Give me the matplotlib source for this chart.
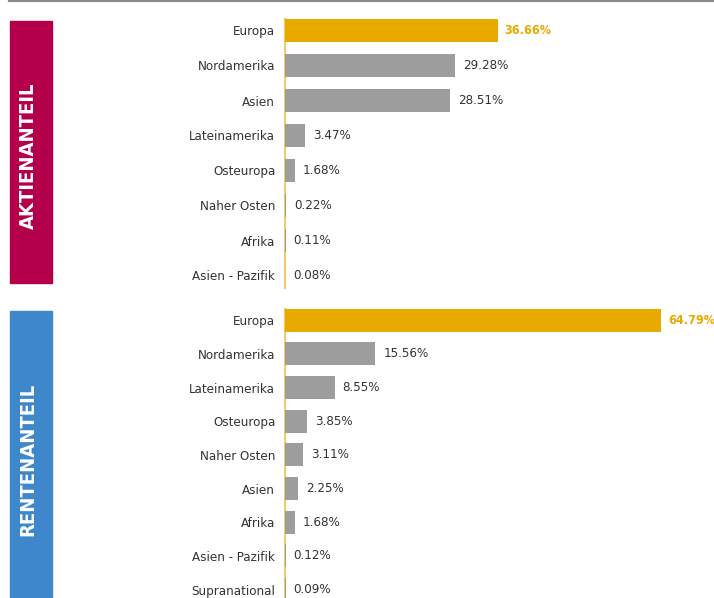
import matplotlib
matplotlib.use('Agg')
import matplotlib.pyplot as plt
from matplotlib.patches import Rectangle
from matplotlib.lines import Line2D

plt.rcParams['font.family'] = ['DejaVu Sans']
plt.rcParams['font.stretch'] = 'condensed'

# data
aktien_labels = ['Europa', 'Nordamerika', 'Asien', 'Lateinamerika', 'Osteuropa',
                 'Naher Osten', 'Afrika', 'Asien - Pazifik']
aktien_values = [36.66, 29.28, 28.51, 3.47, 1.68, 0.22, 0.11, 0.08]

renten_labels = ['Europa', 'Nordamerika', 'Lateinamerika', 'Osteuropa', 'Naher Osten',
                 'Asien', 'Afrika', 'Asien - Pazifik', 'Supranational']
renten_values = [64.79, 15.56, 8.55, 3.85, 3.11, 2.25, 1.68, 0.12, 0.09]

W, H = 714, 598
ORANGE = '#e9aa00'
GRAY = '#9d9d9d'
TEXT = '#333333'
CRIMSON = '#b4004a'
BLUE = '#3f87cb'
AXIS_LINE = '#f4c96c'

fig = plt.figure(figsize=(W / 100, H / 100), dpi=100)


def px_axes(left, top, width, height):
    # axes placed by pixel coords measured from top-left
    return fig.add_axes([left / W, 1 - (top + height) / H, width / W, height / H])


def draw_panel(ax, labels, values, row_px, top_px, bottom_px):
    n = len(labels)
    ypos = list(range(n))
    colors = [ORANGE] + [GRAY] * (n - 1)
    ax.barh(ypos, values, height=23 / row_px, color=colors, left=0, zorder=3)
    ax.set_xlim(0, 429 / 5.8)
    ax.set_ylim(n - 0.5, -0.5)
    ax.set_yticks(ypos)
    ax.set_yticklabels(labels, fontsize=9.5, color=TEXT)
    ax.tick_params(axis='y', length=0, pad=7)
    ax.set_xticks([])
    for s in ['top', 'right', 'bottom']:
        ax.spines[s].set_visible(False)
    ax.spines['left'].set_color(AXIS_LINE)
    ax.spines['left'].set_linewidth(1.5)
    ax.spines['left'].set_bounds((top_px / row_px) - 0.5, (bottom_px / row_px) - 0.5)
    ax.patch.set_alpha(0)
    for i, v in enumerate(values):
        first = i == 0
        ax.annotate(f'{v:.2f}%', xy=(v, i), xytext=(7 if first else 8, 0),
                    textcoords='offset pixels', ha='left', va='center',
                    fontsize=9 if first else 9.5,
                    color=ORANGE if first else TEXT,
                    fontweight='bold' if first else 'normal',
                    annotation_clip=False)


# top panel: rows 35 px apart, first row centre at y=30.5
ax1 = px_axes(285, 13, 429, 8 * 35)
draw_panel(ax1, aktien_labels, aktien_values, 35, 19 - 13, 288 - 13)

# bottom panel: rows ~33.7 px apart, first row centre at y=320.3
row2 = 33.65
top2 = 320.3 - row2 / 2
ax2 = px_axes(285, top2, 429, 9 * row2)
draw_panel(ax2, renten_labels, renten_values, row2, 309 - top2, 600 - top2)

# side boxes with vertical titles
fig.patches.append(Rectangle((10 / W, 1 - 283 / H), 42 / W, 262 / H,
                             transform=fig.transFigure, color=CRIMSON, zorder=0))
fig.patches.append(Rectangle((10 / W, 0), 42 / W, (598 - 311) / H,
                             transform=fig.transFigure, color=BLUE, zorder=0))
fig.text(28 / W, 1 - 155.5 / H, 'AKTIENANTEIL', rotation=90, color='white',
         fontsize=14.5, fontweight='bold', ha='center', va='center')
fig.text(28 / W, 1 - 459 / H, 'RENTENANTEIL', rotation=90, color='white',
         fontsize=14.5, fontweight='bold', ha='center', va='center')

# thin grey rule at the very top
fig.lines.append(Line2D([9 / W, 1], [1 - 1 / H, 1 - 1 / H], transform=fig.transFigure,
                        color='#8a8a8a', linewidth=1.6))

fig.savefig('out.png', dpi=100)
